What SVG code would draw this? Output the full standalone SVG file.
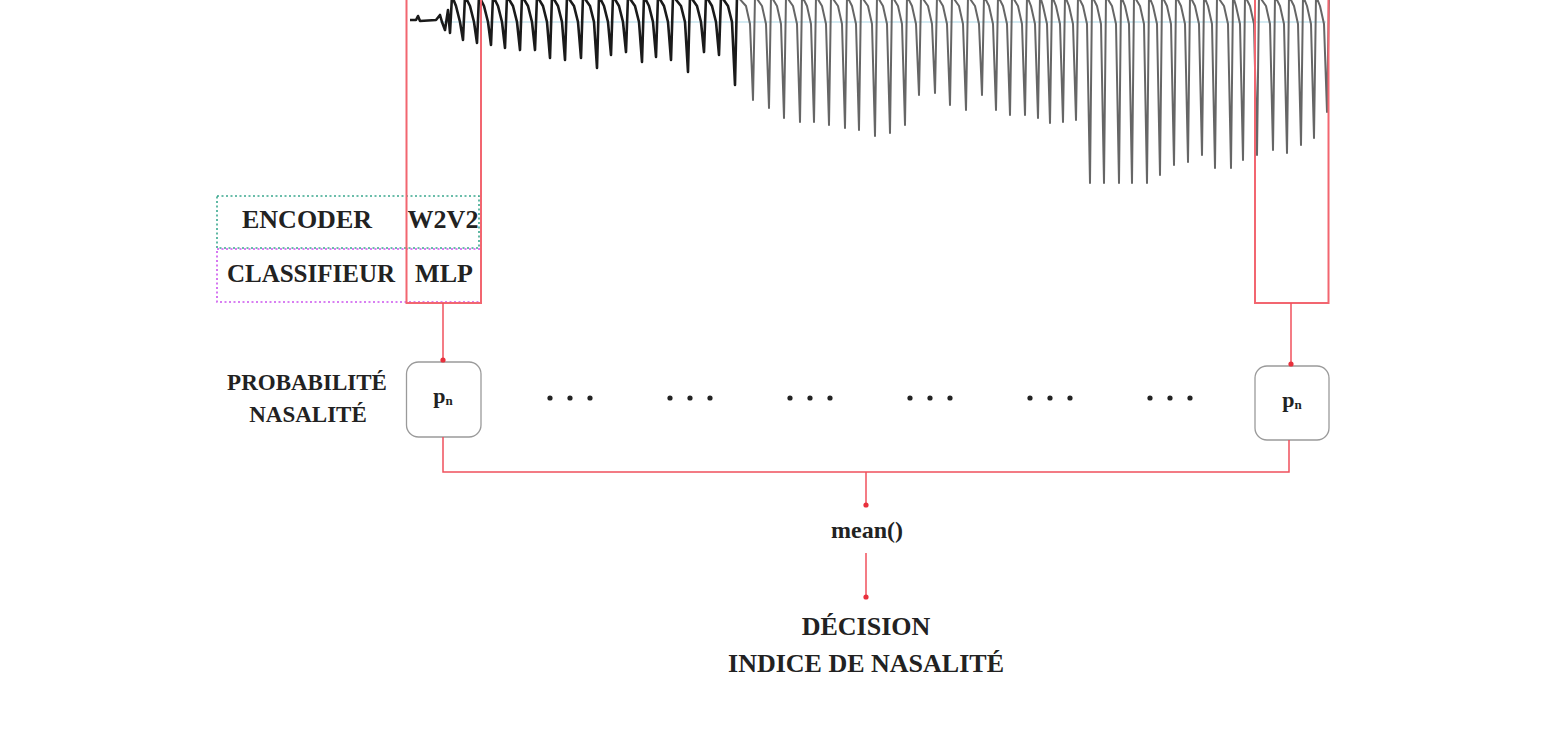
<svg xmlns="http://www.w3.org/2000/svg" width="1563" height="747" viewBox="0 0 1563 747">
<style>
  .t { font-family: "Liberation Serif", "Times New Roman", serif; font-weight: bold; fill: #222; text-anchor: middle; }
  .red { fill: none; stroke: #f26670; stroke-width: 2; }
  .conn { fill: none; stroke: #f0505c; stroke-width: 1.5; }
  .pbox { fill: #fff; stroke: #9a9a9a; stroke-width: 1.3; }
</style>
<defs>
  <marker id="dot" viewBox="0 0 6 6" refX="3" refY="3" markerWidth="6" markerHeight="6" markerUnits="userSpaceOnUse">
    <circle cx="3" cy="3" r="2.6" fill="#e8303c"/>
  </marker>
</defs>
<rect width="1563" height="747" fill="#fff"/>

<g id="waveform">
  <line x1="440" y1="22" x2="1326" y2="22" stroke="#a9d6e6" stroke-width="1"/>
  <path fill="none" stroke="#1a1a1a" stroke-width="2.6" stroke-linejoin="round" d="M410 20 L416 20 L418 16 L420 21 L436 20 L440 15 L442 22 L445 30 L448 10 L450 33 L452 -4 L456 6 L460 22 L463 40 L465 -4 L470 6 L474 22 L477 43 L479 -4 L484 6 L488 22 L491 45 L493 -4 L498 6 L502 22 L505 48 L507 -4 L513 6 L517 22 L520 50 L522 -4 L528 6 L532 22 L535 50 L537 -4 L543 6 L547 22 L550 58 L552 -4 L558 6 L562 22 L565 60 L567 -4 L574 6 L578 22 L581 58 L583 -4 L590 6 L594 22 L597 68 L599 -4 L604 6 L608 22 L611 55 L613 -4 L619 6 L623 22 L626 52 L628 -4 L635 6 L639 22 L642 62 L644 -4 L649 6 L653 22 L656 57 L658 -4 L664 6 L668 22 L671 60 L673 -4 L681 6 L685 22 L688 72 L690 -4 L697 6 L701 22 L704 52 L706 -4 L712 6 L716 22 L719 55 L721 -4 L728 6 L732 22 L735 85 L737 -4"/>
  <path fill="none" stroke="#666" stroke-width="2" stroke-linejoin="round" d="M737 -4 L746 6 L750 24 L753 100 L755 -4 L762 6 L766 24 L769 108 L771 -4 L777 6 L781 24 L784 118 L786 -4 L793 6 L797 24 L800 122 L802 -4 L807 6 L811 24 L814 122 L816 -4 L822 6 L826 24 L829 125 L831 -4 L838 6 L842 24 L845 128 L847 -4 L852 6 L856 24 L859 130 L861 -4 L868 6 L872 24 L875 136 L877 -4 L883 6 L887 24 L890 133 L892 -4 L898 6 L902 24 L905 125 L907 -4 L912 6 L916 24 L919 95 L921 -4 L928 6 L932 24 L935 93 L937 -4 L943 6 L947 24 L950 105 L952 -4 L959 6 L963 24 L966 110 L968 -4 L975 6 L979 24 L982 95 L984 -4 L989 6 L993 24 L996 110 L998 -4 L1003 6 L1007 24 L1010 115 L1012 -4 L1018 6 L1022 24 L1025 115 L1027 -4 L1031 6 L1035 24 L1038 118 L1040 -4 L1043 6 L1047 24 L1050 123 L1052 -4 L1056 6 L1060 24 L1063 122 L1065 -4 L1069 6 L1073 24 L1076 120 L1078 -4 L1083 6 L1087 24 L1090 183 L1092 -4 L1097 6 L1101 24 L1104 183 L1106 -4 L1112 6 L1116 24 L1119 183 L1121 -4 L1125 6 L1129 24 L1132 183 L1134 -4 L1140 6 L1144 24 L1147 183 L1149 -4 L1153 6 L1157 24 L1160 175 L1162 -4 L1167 6 L1171 24 L1174 165 L1176 -4 L1181 6 L1185 24 L1188 162 L1190 -4 L1195 6 L1199 24 L1202 155 L1204 -4 L1208 6 L1212 24 L1215 168 L1217 -4 L1224 6 L1228 24 L1231 168 L1233 -4 L1236 6 L1240 24 L1243 160 L1245 -4 L1250 6 L1254 24 L1257 155 L1259 -4 L1266 6 L1270 24 L1273 150 L1275 -4 L1280 6 L1284 24 L1287 153 L1289 -4 L1294 6 L1298 24 L1301 145 L1303 -4 L1307 6 L1311 24 L1314 138 L1316 -4 L1320 6 L1324 24 L1327 112 L1329 -4"/>
</g>

<g id="encoder">
  <rect x="217" y="196" width="262" height="52" fill="none" stroke="#3aa88e" stroke-width="1.6" stroke-dasharray="2 2.5"/>
  <text class="t" x="307" y="228" font-size="26">ENCODER</text>
  <text class="t" x="443" y="228" font-size="26">W2V2</text>
</g>
<g id="classifieur">
  <rect x="217" y="249" width="264" height="53" fill="none" stroke="#cc55ee" stroke-width="1.6" stroke-dasharray="2 2.5"/>
  <text class="t" x="311" y="282" font-size="25">CLASSIFIEUR</text>
  <text class="t" x="444" y="282" font-size="26">MLP</text>
</g>

<g id="window-left">
  <rect class="red" x="406.5" y="-5" width="74.5" height="308"/>
</g>
<g id="window-right">
  <rect class="red" x="1255" y="-5" width="73.5" height="308"/>
</g>

<g id="label-proba">
  <text class="t" x="307" y="390" font-size="23">PROBABILITÉ</text>
  <text class="t" x="308" y="422" font-size="23">NASALITÉ</text>
</g>

<g id="pn-left">
  <rect class="pbox" x="406.5" y="362" width="74.5" height="75" rx="12"/>
  <text class="t" x="443" y="403" font-size="22">p<tspan font-size="13" dy="2">n</tspan></text>
</g>
<g id="pn-right">
  <rect class="pbox" x="1255" y="366" width="74" height="74" rx="12"/>
  <text class="t" x="1292" y="407" font-size="22">p<tspan font-size="13" dy="2">n</tspan></text>
</g>

<g id="ellipsis" fill="#222">
  <circle cx="550" cy="398" r="2.6"/><circle cx="570" cy="398" r="2.6"/><circle cx="590" cy="398" r="2.6"/>
  <circle cx="670" cy="398" r="2.6"/><circle cx="690" cy="398" r="2.6"/><circle cx="710" cy="398" r="2.6"/>
  <circle cx="790" cy="398" r="2.6"/><circle cx="810" cy="398" r="2.6"/><circle cx="830" cy="398" r="2.6"/>
  <circle cx="910" cy="398" r="2.6"/><circle cx="930" cy="398" r="2.6"/><circle cx="950" cy="398" r="2.6"/>
  <circle cx="1030" cy="398" r="2.6"/><circle cx="1050" cy="398" r="2.6"/><circle cx="1070" cy="398" r="2.6"/>
  <circle cx="1150" cy="398" r="2.6"/><circle cx="1170" cy="398" r="2.6"/><circle cx="1190" cy="398" r="2.6"/>
</g>

<g id="mean">
  <text class="t" x="867" y="538" font-size="24">mean()</text>
</g>
<g id="decision">
  <text class="t" x="866" y="635" font-size="26">DÉCISION</text>
  <text class="t" x="866" y="672" font-size="26">INDICE DE NASALITÉ</text>
</g>

<g id="connectors">
  <line class="conn" x1="443" y1="303" x2="443" y2="360" marker-end="url(#dot)"/>
  <line class="conn" x1="1291" y1="303" x2="1291" y2="364" marker-end="url(#dot)"/>
  <polyline class="conn" points="443,437 443,472 1289,472 1289,440"/>
  <line class="conn" x1="866" y1="472" x2="866" y2="505" marker-end="url(#dot)"/>
  <line class="conn" x1="866" y1="553" x2="866" y2="597" marker-end="url(#dot)"/>
</g>
</svg>
